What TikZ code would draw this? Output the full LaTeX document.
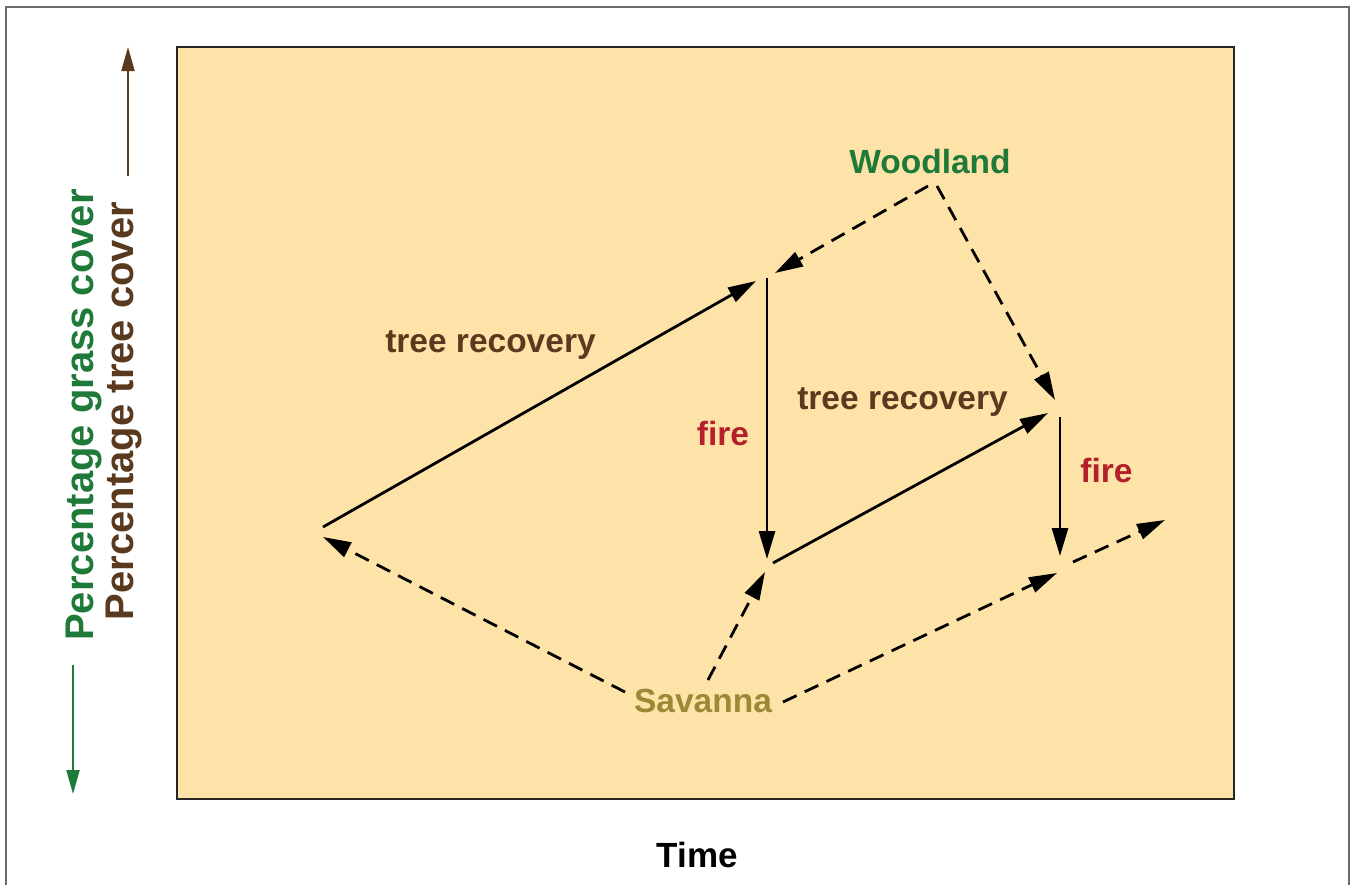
\documentclass[tikz,border=0pt]{standalone}
\usepackage{fontspec}
\setmainfont{Liberation Sans}
\usetikzlibrary{arrows.meta}
\definecolor{panelfill}{HTML}{FDE3A8}
\definecolor{woodgreen}{HTML}{1F7A3A}
\definecolor{treebrown}{HTML}{5A3A1E}
\definecolor{firered}{HTML}{B41F2A}
\definecolor{savolive}{HTML}{9A8A35}
\definecolor{framegray}{HTML}{6A6A6A}
\tikzset{
  flow/.style={draw=black, line width=2.8pt, -{Triangle[length=28pt,width=16pt]}},
  jump/.style={flow, dash pattern=on 15pt off 9pt},
  lbl/.style={font=\fontsize{33.5}{40}\selectfont\bfseries, anchor=base, inner sep=0pt},
  axislbl/.style={font=\fontsize{40}{46}\selectfont\bfseries, anchor=base, inner sep=0pt, rotate=90},
  axisline/.style={line width=2.2pt, -{Triangle[length=24pt,width=13pt]}}
}
\begin{document}
\begin{tikzpicture}[x=1pt,y=-1pt]
\useasboundingbox (0,0) rectangle (1351,884);
% outer frame (open at the bottom)
\draw[framegray, line width=2.5pt] (6,900) -- (6,7) -- (1349,7) -- (1349,900);
% plot panel
\draw[fill=panelfill, draw=black!85, line width=2.8pt] (177,47) rectangle (1234,799);

% axis labels and arrows
\node[axislbl, text=woodgreen] (grass) at (93,415) {Percentage grass cover};
\node[axislbl, text=treebrown] (tree) at (133,411) {Percentage tree cover};
\coordinate (gs) at (73,665);
\coordinate (ge) at (73,794);
\coordinate (ts) at (128,176);
\coordinate (te) at (128,47);
\draw[axisline, woodgreen] (gs) -- (ge);
\draw[axisline, treebrown] (ts) -- (te);
\node[lbl, font=\fontsize{35}{42}\selectfont\bfseries] (time) at (697.5,867) {Time};

% state labels
\node[lbl, text=woodgreen] (wood) at (930,173) {Woodland};
\node[lbl, text=savolive] (sav) at (703,712) {Savanna};
\node[lbl, text=treebrown] (rec1) at (490.5,352) {tree recovery};
\node[lbl, text=treebrown] (rec2) at (902.5,409) {tree recovery};
\node[lbl, text=firered] (fire1) at (723,445) {fire};
\node[lbl, text=firered] (fire2) at (1106.5,482) {fire};

% trajectory points
\coordinate (Atop) at (323,527);
\coordinate (Abot) at (323,537);
\coordinate (Bl) at (756,281);
\coordinate (Bv) at (767,278);
\coordinate (Br) at (775,273);
\coordinate (Ct) at (767,559);
\coordinate (Cr) at (773,563);
\coordinate (Cb) at (765,572);
\coordinate (Dl) at (1048,413);
\coordinate (Dt) at (1055,400);
\coordinate (Dv) at (1060,417);
\coordinate (Et) at (1060,556);
\coordinate (Eb) at (1057,573);
\coordinate (Er) at (1073,562);
\coordinate (F) at (1165,520);
\coordinate (W1) at (928,186);
\coordinate (W2) at (937,186);
\coordinate (S1) at (625,692);
\coordinate (S2) at (708,680);
\coordinate (S3) at (783,702);

% tree recovery and fire
\draw[flow] (Atop) -- (Bl);
\draw[flow] (Bv) -- (Ct);
\draw[flow] (Cr) -- (Dl);
\draw[flow] (Dv) -- (Et);

% shifts from woodland and savanna
\draw[jump] (W1) -- (Br);
\draw[jump] (W2) -- (Dt);
\draw[jump] (S1) -- (Abot);
\draw[jump] (S2) -- (Cb);
\draw[jump] (S3) -- (Eb);
\draw[jump] (Er) -- (F);
\end{tikzpicture}
\end{document}
